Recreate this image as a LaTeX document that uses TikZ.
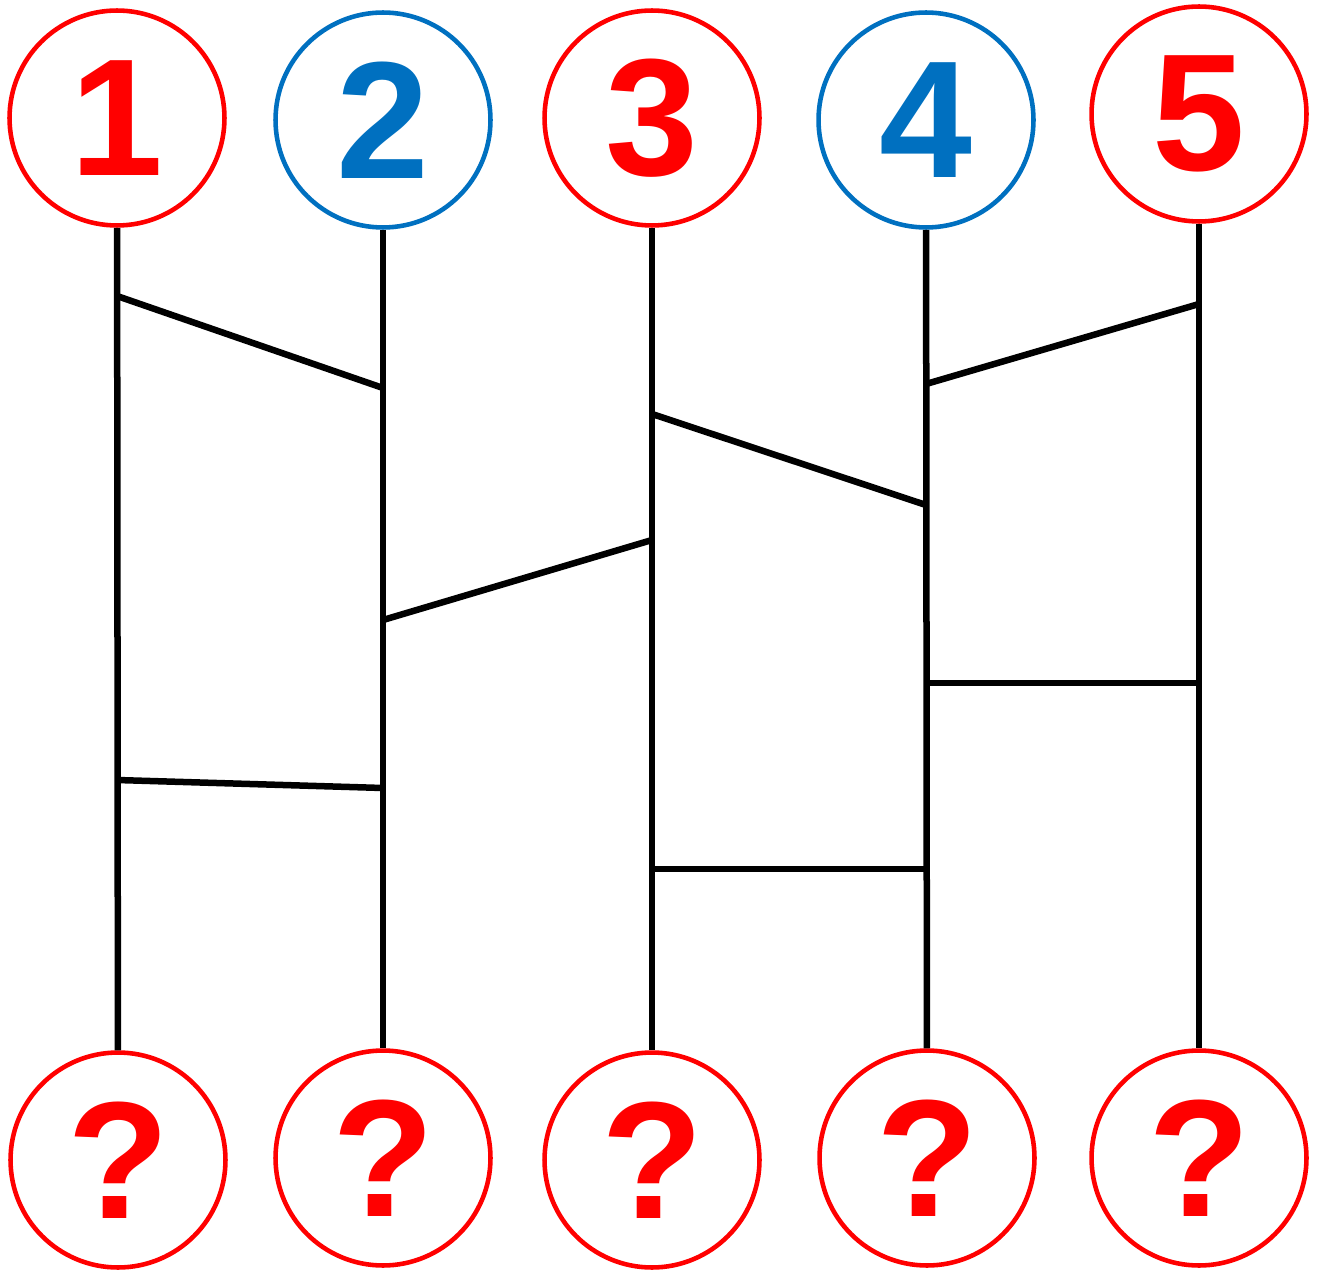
\documentclass[tikz,border=0pt]{standalone}
\usepackage{fontspec}
\newfontfamily\ballfont{Liberation Sans}
\usetikzlibrary{positioning}
\definecolor{ballred}{RGB}{255,0,0}
\definecolor{ballblue}{RGB}{0,112,192}
\tikzset{ball/.style={draw, circle, line width=2.6pt, minimum size=4.3cm, inner sep=0pt, font=\ballfont\bfseries\fontsize{95}{95}\selectfont}}
\tikzset{leg/.style={line width=3.7pt}}

\begin{document}
\begin{tikzpicture}[x=0.02cm, y=-0.02cm]
    \useasboundingbox (0,0) rectangle (1317,1270);
    \node (t1) [ball, ballred, text=ballred] at (117,118) {1};
    \node (t2) [ball, ballblue, text=ballblue] at (383,120) {2};
    \node (t3) [ball, ballred, text=ballred] at (652,118) {3};
    \node (t4) [ball, ballblue, text=ballblue] at (926,120) {4};
    \node (t5) [ball, ballred, text=ballred] at (1199,114) {5};
    \node (b1) [ball, ballred, text=ballred] at (118,1160) {?};
    \node (b2) [ball, ballred, text=ballred] at (383,1158) {?};
    \node (b3) [ball, ballred, text=ballred] at (652,1160) {?};
    \node (b4) [ball, ballred, text=ballred] at (927,1158) {?};
    \node (b5) [ball, ballred, text=ballred] at (1199,1158) {?};

    % the legs
    \path [draw, leg] (t1) -- (b1);
    \path [draw, leg] (t2) -- (b2);
    \path [draw, leg] (t3) -- (b3);
    \path [draw, leg] (t4) -- (b4);
    \path [draw, leg] (t5) -- (b5);

    % rungs
    \path [draw, leg] (t1 |- 0,296) -- (t2 |- 0,388);
    \path [draw, leg] (t1 |- 0,780) -- (t2 |- 0,788);
    \path [draw, leg] (t2 |- 0,620) -- (t3 |- 0,540);
    \path [draw, leg] (t3 |- 0,414) -- (t4 |- 0,505);
    \path [draw, leg] (t3 |- 0,869) -- (t4 |- 0,869);
    \path [draw, leg] (t4 |- 0,384) -- (t5 |- 0,304);
    \path [draw, leg] (t4 |- 0,683) -- (t5 |- 0,683);
\end{tikzpicture}
\end{document}
